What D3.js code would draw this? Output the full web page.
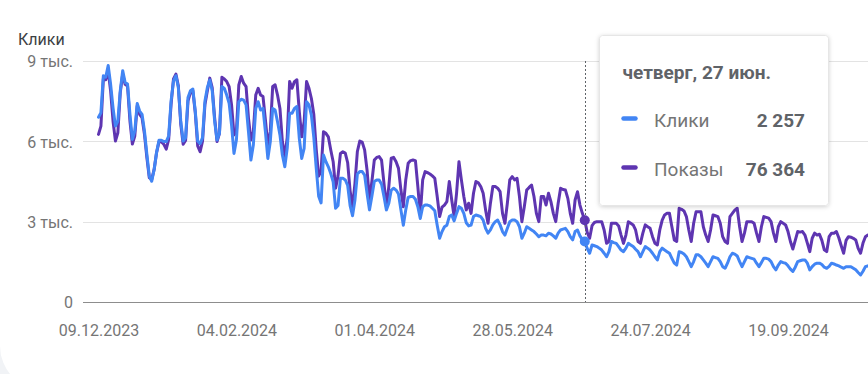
<!DOCTYPE html>
<html><head><meta charset="utf-8">
<script src="https://cdn.jsdelivr.net/npm/d3@7"></script>
<style>
html,body{margin:0;padding:0;background:#fff;}
svg{display:block;font-family:Roboto,"Noto Sans",sans-serif;}
</style></head>
<body><svg id="chart" width="868" height="374"></svg>
<script>
// ---- data ----
const startDate = "2023-12-09";           // first day of the series (daily)
const xTickLabels = ["09.12.2023","04.02.2024","01.04.2024","28.05.2024","24.07.2024","19.09.2024"];
const yTickValues = [0, 3000, 6000, 9000];
const yTickLabels = ["0","3 тыс.","6 тыс.","9 тыс."];
const seriesNames = ["Клики","Показы"];
const yTitle = "Клики";
const hoverDate = "2024-06-27";
const hoverLabel = "четверг, 27 июн.";

const clicks = [
 6900,7070,
 8450,8400,8830,8140,7260,6570,6760,
 7890,8640,8200,8140,7010,6070,6390,
 7410,7130,7010,6390,5510,4700,4510,
 4950,5580,6040,6040,5990,5990,6200,
 7510,8260,8450,8010,6760,6010,6140,
 7640,7890,7950,7130,6010,5910,6140,
 7510,8010,8290,7890,6760,6050,6300,
 8050,7980,7730,7420,6610,5550,6050,
 7480,7570,7540,7360,6350,5300,5860,
 7230,7480,7170,7230,6350,5360,5980,
 7230,7170,6730,6240,5490,5050,5740,
 7050,7050,7230,7300,6110,5360,5740,
 7480,7360,6980,6150,5000,3950,3700,
 5490,5240,5050,4800,4490,3500,3600,
 4620,4620,4560,4350,3600,3220,3810,
 4780,4870,4870,4740,4060,3440,3950,
 4500,4560,4560,4400,3940,3440,3690,
 4180,4250,4180,4030,3440,2870,3440,
 3910,3940,3940,3840,3560,3120,3560,
 3620,3620,3590,3500,3410,2870,2380,
 2630,2810,2870,3190,3250,3030,3310,
 3560,3500,3310,2960,2840,2870,3190,
 3250,3220,3190,3060,2750,2570,2690,
 2880,3000,3060,2880,2630,2500,2750,
 3000,3060,3060,3000,2810,2380,2570,
 2810,2750,2690,2630,2540,2440,2500,
 2500,2470,2570,2540,2470,2380,2570,
 2690,2720,2750,2630,2440,2320,2630,
 2690,2470,2320,2257,2000,1820,2130,
 2100,2070,2010,1940,1820,1690,1880,
 2260,2220,2190,2070,1940,1880,2010,
 2190,2130,2070,1970,1880,1690,1880,
 2070,2010,1940,1820,1690,1570,1880,
 2010,1940,1880,1820,1630,1450,1380,
 1880,1850,1790,1690,1510,1320,1510,
 1760,1760,1690,1570,1450,1320,1510,
 1690,1660,1630,1510,1320,1260,1450,
 1690,1820,1790,1720,1510,1320,1510,
 1690,1660,1630,1600,1450,1320,1470,
 1630,1630,1600,1510,1320,1200,1380,
 1510,1470,1450,1350,1230,1140,1300,
 1510,1540,1570,1570,1450,1200,1320,
 1410,1450,1450,1400,1300,1260,1330,
 1450,1420,1380,1350,1300,1260,1320,
 1320,1320,1260,1200,1100,1010,1150,
 1320,1350
];

const impressions = [
 156500,164250,
 208250,207500,216000,197250,169000,150250,158000,
 195500,212750,203250,201750,169000,147500,155000,
 183000,175250,172000,156500,134750,116000,114500,
 123750,139500,149500,149500,147250,142750,151750,
 184500,208250,212750,201750,166000,147250,150750,
 187750,195500,197250,176750,145750,140250,150250,
 184500,197250,209000,200250,172000,149750,157500,
 209750,208250,205750,201000,184000,156000,159000,
 202750,210500,204250,201000,171500,151250,159000,
 193250,199500,193250,191750,169750,146500,159000,
 201250,202750,193250,180750,149750,135750,153500,
 205750,199500,205750,207500,177750,154250,168250,
 205750,199500,190000,175000,142500,117500,122500,
 159000,157500,154250,142000,131000,106250,117500,
 138750,140250,139000,130000,103750,88750,110750,
 140500,150250,149250,142000,123250,95250,112500,
 132500,135000,135750,132500,110750,89000,107750,
 134250,135000,131000,124750,104500,89000,114000,
 129500,132000,132500,132000,107750,81250,114000,
 121750,120750,119500,117750,115500,98500,79750,
 88500,90500,93750,112500,95250,79750,101500,
 131000,114000,98500,86000,92250,82750,101500,
 112500,111250,107750,101500,86000,73500,92250,
 107750,107750,106250,103000,82750,73500,92250,
 114000,117000,114000,115500,98500,75000,89000,
 104500,107000,109250,98500,82750,75000,98500,
 98500,90500,101500,93750,82750,75000,92250,
 106250,105000,104500,96750,82750,73500,95250,
 103000,90500,82750,76364,65000,59500,71250,
 74250,75000,75000,75000,67250,54750,56500,
 73500,73500,73500,71000,62500,54750,62500,
 75000,73500,72000,67250,56500,54750,64250,
 72000,70250,68750,61000,54750,53250,67250,
 76500,81250,82750,82750,70250,58000,56500,
 87500,86500,85000,79750,67250,56500,73500,
 84250,84250,84250,70250,62500,56500,67250,
 81250,80500,79750,73500,61000,56500,54750,
 79750,82750,85750,87500,70250,56500,64250,
 75000,75000,75000,73500,64250,56500,70250,
 79750,79000,78250,75000,64250,56500,70250,
 75000,73500,72000,65750,56500,49500,57500,
 65750,65250,65750,62500,55000,47000,59500,
 64250,62500,63250,57500,48750,47000,61000,
 64250,64250,65750,60000,52500,45500,57500,
 61000,60500,59500,58000,50000,45500,55000,
 61000,62500
];

// ---- chart ----
const W = 868, H = 374;
const svg = d3.select("#chart");
const parse = d3.utcParse("%Y-%m-%d");
const parseTick = d3.utcParse("%d.%m.%Y");
const fmtTick = d3.utcFormat("%d.%m.%Y");
const t0 = parse(startDate);
const dates = clicks.map((_, i) => d3.utcDay.offset(t0, i));

const x = d3.scaleUtc()
  .domain([parseTick(xTickLabels[0]), parseTick(xTickLabels[xTickLabels.length - 1])])
  .range([98.5, 788]);
const y = d3.scaleLinear().domain([0, 9000]).range([302, 61]);
const y2 = d3.scaleLinear().domain([0, 225000]).range([302, 61]);

const COL_CLICKS = "#4285f4", COL_IMPR = "#5e35b1";

// background card with rounded bottom-left corner
svg.append("rect").attr("width", W).attr("height", H).attr("fill", "#f1f3f6");
svg.append("rect").attr("x", 0).attr("y", -60).attr("width", W + 60).attr("height", 450)
  .attr("rx", 44).attr("fill", "#fff");

// title
svg.append("text").attr("x", 18).attr("y", 45).attr("font-size", 16)
  .attr("fill", "#3c4043").text(yTitle);

// y axis + grid
const yAxis = d3.axisLeft(y).tickValues(yTickValues)
  .tickFormat((d, i) => yTickLabels[i]).tickSize(0).tickPadding(0);
const gy = svg.append("g").attr("transform", "translate(73,0)").call(yAxis);
gy.select(".domain").remove();
gy.selectAll("text").attr("font-size", 16).attr("fill", "#757575")
  .attr("font-family", "Roboto, sans-serif").attr("dy", "0.36em");

svg.append("g").selectAll("line").data(yTickValues.filter(v => v > 0)).join("line")
  .attr("x1", 83).attr("x2", W).attr("y1", d => Math.round(y(d)) + 0.5).attr("y2", d => Math.round(y(d)) + 0.5)
  .attr("stroke", "#e3e3e3").attr("stroke-width", 1);

// x axis
const xAxis = d3.axisBottom(x).tickValues(xTickLabels.map(parseTick))
  .tickFormat(fmtTick).tickSize(0).tickPadding(0);
const gx = svg.append("g").attr("transform", "translate(0,322)").call(xAxis);
gx.select(".domain").remove();
gx.selectAll("text").attr("font-size", 16).attr("fill", "#757575")
  .attr("font-family", "Roboto, sans-serif").attr("dy", "0.85em");

// baseline
svg.append("line").attr("x1", 83).attr("x2", W).attr("y1", 302.5).attr("y2", 302.5)
  .attr("stroke", "#8d8d8d").attr("stroke-width", 1);

// lines
const lineImpr = d3.line().x((d, i) => x(dates[i])).y(d => y2(d));
const lineClicks = d3.line().x((d, i) => x(dates[i])).y(d => y(d));
svg.append("path").datum(impressions).attr("d", lineImpr)
  .attr("fill", "none").attr("stroke", COL_IMPR).attr("stroke-width", 3)
  .attr("stroke-linejoin", "round").attr("stroke-linecap", "round");
svg.append("path").datum(clicks).attr("d", lineClicks)
  .attr("fill", "none").attr("stroke", COL_CLICKS).attr("stroke-width", 3)
  .attr("stroke-linejoin", "round").attr("stroke-linecap", "round");

// hover
const hd = parse(hoverDate);
const hi = d3.utcDay.count(t0, hd);
const hx = x(hd);
svg.append("line").attr("x1", Math.round(hx) + 0.5).attr("x2", Math.round(hx) + 0.5)
  .attr("y1", 61).attr("y2", 302).attr("stroke", "#5f6368").attr("stroke-width", 1)
  .attr("stroke-dasharray", "2,2");
svg.append("circle").attr("cx", hx).attr("cy", y2(impressions[hi])).attr("r", 5).attr("fill", COL_IMPR);
svg.append("circle").attr("cx", hx).attr("cy", y(clicks[hi])).attr("r", 5).attr("fill", COL_CLICKS);

// tooltip
const defs = svg.append("defs");
const f = defs.append("filter").attr("id", "sh").attr("x", "-10%").attr("y", "-10%").attr("width", "120%").attr("height", "130%");
f.append("feDropShadow").attr("dx", 0).attr("dy", 1).attr("stdDeviation", 2)
  .attr("flood-color", "#000").attr("flood-opacity", 0.18);
const tip = svg.append("g").attr("transform", "translate(599.5,35.5)");
tip.append("rect").attr("width", 229).attr("height", 170).attr("rx", 3)
  .attr("fill", "#fff").attr("stroke", "#e6e6e6").attr("filter", "url(#sh)");
tip.append("text").attr("x", 23).attr("y", 43).attr("font-size", 19).attr("font-weight", 700)
  .attr("fill", "#5f6368").text(hoverLabel);
const loc = d3.formatLocale({decimal: ",", thousands: "\u00a0", grouping: [3], currency: ["", ""]});
const fmtNum = loc.format(",d");
const rows = [
  {name: seriesNames[0], val: clicks[hi], col: COL_CLICKS, cy: 83},
  {name: seriesNames[1], val: impressions[hi], col: COL_IMPR, cy: 132}
];
rows.forEach(r => {
  tip.append("line").attr("x1", 24).attr("x2", 36).attr("y1", r.cy).attr("y2", r.cy)
    .attr("stroke", r.col).attr("stroke-width", 4.5).attr("stroke-linecap", "round");
  tip.append("text").attr("x", 54.5).attr("y", r.cy + 8.5).attr("font-size", 19)
    .attr("fill", "#757575").text(r.name);
  tip.append("text").attr("x", 205.5).attr("y", r.cy + 8.5).attr("font-size", 19).attr("font-weight", 700)
    .attr("text-anchor", "end").attr("fill", "#5f6368").text(fmtNum(r.val));
});
</script>
</body></html>
